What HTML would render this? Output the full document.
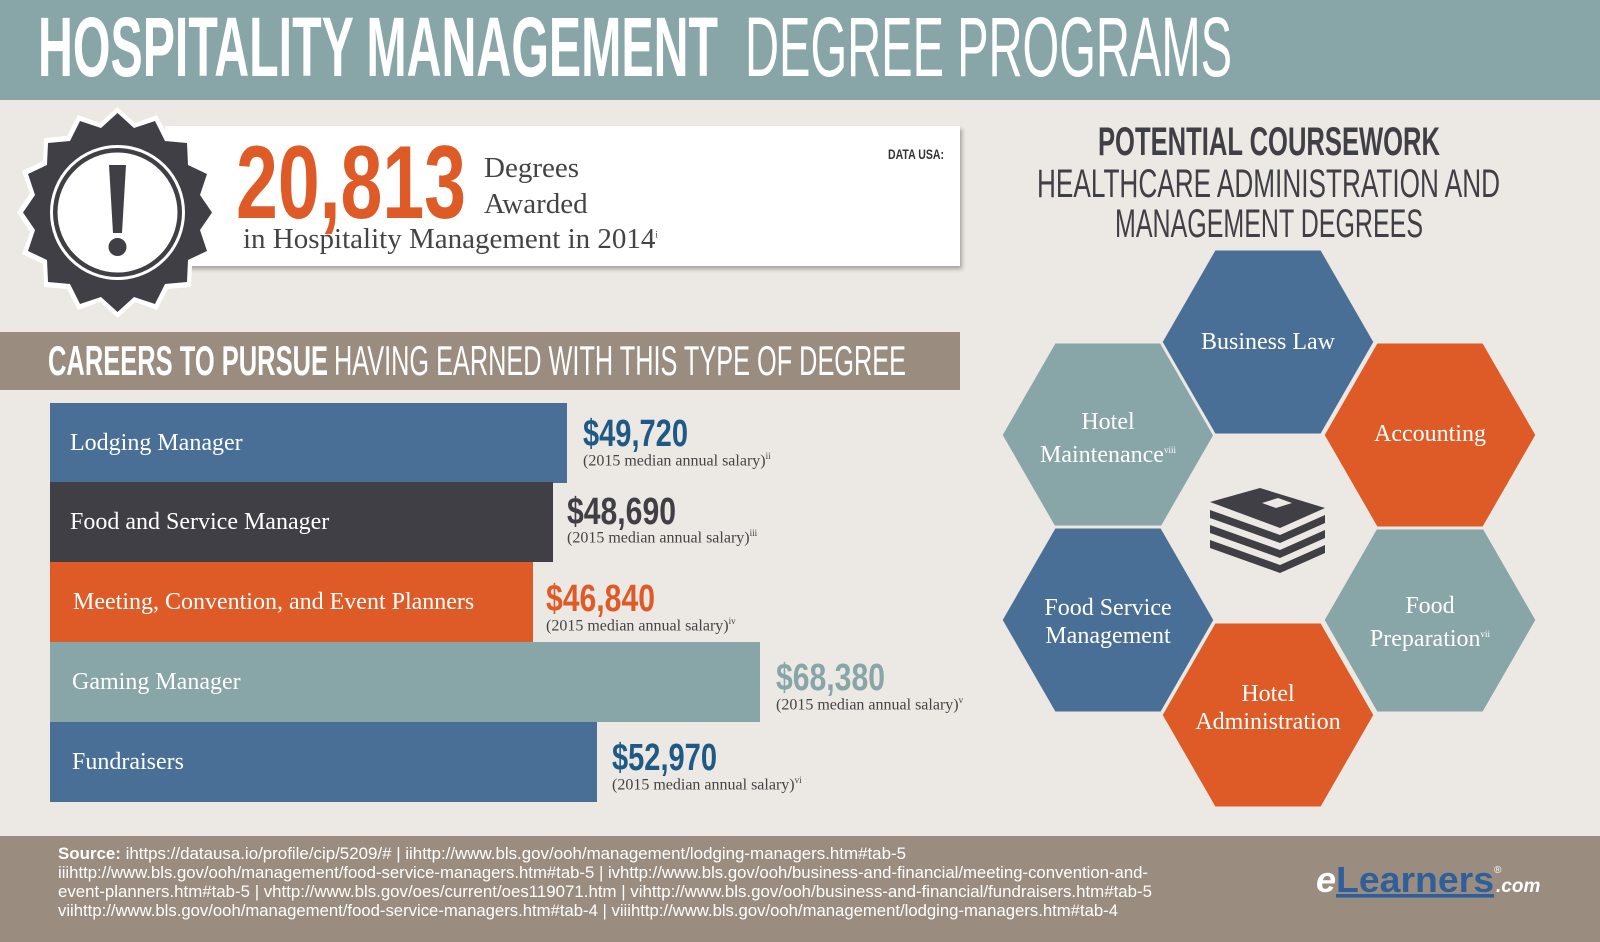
<!DOCTYPE html>
<html><head><meta charset="utf-8"><style>
*{margin:0;padding:0;box-sizing:border-box}
body{width:1600px;height:942px;background:#ece8e3;position:relative;overflow:hidden;font-family:"Liberation Serif",serif}
.abs{position:absolute}
.bar{position:absolute;left:50px;height:80px;color:#fff;font-size:24px;line-height:80px;padding-left:20px}
.sal{position:absolute;line-height:1}
.sal span{font-size:16px;color:#444;display:block;margin-top:34px}
sup{font-size:9px}
.hx{position:absolute;color:#fff;font-size:24px;text-align:center;line-height:28px}
svg text{font-family:"Liberation Sans",sans-serif}
</style></head><body>
<div class="abs" style="left:0;top:0;width:1600px;height:100px;background:#88a5a7"></div>
<div class="abs" style="left:165px;top:126px;width:795px;height:140px;background:#fff;box-shadow:2px 3px 4px rgba(0,0,0,.3)"></div>
<div class="abs" style="left:0;top:332px;width:960px;height:58px;background:#9a8d80"></div>

<div class="bar" style="top:403px;width:517px;background:#4a6f96">Lodging Manager</div>
<div class="bar" style="top:482px;width:503px;background:#3f3f45">Food and Service Manager</div>
<div class="bar" style="top:562px;width:483px;background:#de5b27;padding-left:23px">Meeting, Convention, and Event Planners</div>
<div class="bar" style="top:642px;width:710px;background:#88a5a7;padding-left:22px">Gaming Manager</div>
<div class="bar" style="top:722px;width:547px;background:#4a6f96;padding-left:22px">Fundraisers</div>

<div class="sal" style="left:583px;top:418px"><span>(2015 median annual salary)<sup>ii</sup></span></div>
<div class="sal" style="left:567px;top:495px"><span>(2015 median annual salary)<sup>iii</sup></span></div>
<div class="sal" style="left:546px;top:583px"><span>(2015 median annual salary)<sup>iv</sup></span></div>
<div class="sal" style="left:776px;top:662px"><span>(2015 median annual salary)<sup>v</sup></span></div>
<div class="sal" style="left:612px;top:742px"><span>(2015 median annual salary)<sup>vi</sup></span></div>

<div class="abs" style="left:484px;top:150px;font-size:29px;color:#444;line-height:36px">Degrees<br>Awarded</div>
<div class="abs" style="left:243px;top:223px;font-size:29px;color:#444">in Hospitality Management in 2014<sup>i</sup></div>

<svg class="abs" style="left:0;top:0" width="1600" height="942">
<text x="38" y="76" font-size="84" fill="#fff" font-weight="bold" textLength="680" lengthAdjust="spacingAndGlyphs">HOSPITALITY MANAGEMENT</text>
<text x="745" y="76" font-size="84" fill="#fff" textLength="487" lengthAdjust="spacingAndGlyphs">DEGREE PROGRAMS</text>
<text x="236" y="218" font-size="104" fill="#de5b27" font-weight="bold" textLength="230" lengthAdjust="spacingAndGlyphs">20,813</text>
<text x="888" y="159" font-size="14" fill="#333" font-weight="bold" textLength="56" lengthAdjust="spacingAndGlyphs">DATA USA:</text>
<text x="48" y="375" font-size="42" fill="#fff" font-weight="bold" textLength="280" lengthAdjust="spacingAndGlyphs">CAREERS TO PURSUE</text>
<text x="334" y="375" font-size="42" fill="#fff" textLength="572" lengthAdjust="spacingAndGlyphs">HAVING EARNED WITH THIS TYPE OF DEGREE</text>
<text x="1098" y="155" font-size="40" fill="#3f3f45" font-weight="bold" textLength="342" lengthAdjust="spacingAndGlyphs">POTENTIAL COURSEWORK</text>
<text x="1037" y="197" font-size="40" fill="#3f3f45" textLength="463" lengthAdjust="spacingAndGlyphs">HEALTHCARE ADMINISTRATION AND</text>
<text x="1115" y="237" font-size="40" fill="#3f3f45" textLength="308" lengthAdjust="spacingAndGlyphs">MANAGEMENT DEGREES</text>
<g font-size="38" font-weight="bold">
<text x="583" y="446" fill="#1f5a85" textLength="105" lengthAdjust="spacingAndGlyphs">$49,720</text>
<text x="567" y="524" fill="#3f3f45" textLength="109" lengthAdjust="spacingAndGlyphs">$48,690</text>
<text x="546" y="611" fill="#de5b27" textLength="109" lengthAdjust="spacingAndGlyphs">$46,840</text>
<text x="776" y="690" fill="#88a5a7" textLength="109" lengthAdjust="spacingAndGlyphs">$68,380</text>
<text x="612" y="770" fill="#1f5a85" textLength="105" lengthAdjust="spacingAndGlyphs">$52,970</text>
</g>
<g stroke="#ece8e3" stroke-width="3">
<polygon fill="#88a5a7" points="1001,435 1054.5,342 1161.5,342 1215,435 1161.5,528 1054.5,528"/>
<polygon fill="#4a6f96" points="1001,620 1054.5,527 1161.5,527 1215,620 1161.5,713 1054.5,713"/>
<polygon fill="#88a5a7" points="1323,620 1376.5,527 1483.5,527 1537,620 1483.5,713 1376.5,713"/>
<polygon fill="#de5b27" points="1323,435 1376.5,342 1483.5,342 1537,435 1483.5,528 1376.5,528"/>
<polygon fill="#4a6f96" points="1161,342 1214.5,249 1321.5,249 1375,342 1321.5,435 1214.5,435"/>
<polygon fill="#de5b27" points="1161,715 1214.5,622 1321.5,622 1375,715 1321.5,808 1214.5,808"/>
</g>
<g fill="#3f3f45">
<polygon points="1210,540 1280,565 1325,545 1325,553 1280,573 1210,548"/>
<polygon points="1210,525 1280,550 1325,530 1325,538 1280,558 1210,533"/>
<polygon points="1210,510 1280,535 1325,515 1325,523 1280,543 1210,518"/>
<polygon points="1210,502 1260,488 1325,508 1280,528"/>
<polygon fill="#ece8e3" points="1262,503 1278,498 1292,503 1276,508"/>
</g>
<rect x="0" y="836" width="1600" height="106" fill="#9a8d80"/>
<g font-size="17" fill="#fff">
<text x="58" y="859" textLength="848" lengthAdjust="spacingAndGlyphs"><tspan font-weight="bold">Source:</tspan> ihttps://datausa.io/profile/cip/5209/# | iihttp://www.bls.gov/ooh/management/lodging-managers.htm#tab-5</text>
<text x="58" y="878" textLength="1090" lengthAdjust="spacingAndGlyphs">iiihttp://www.bls.gov/ooh/management/food-service-managers.htm#tab-5 | ivhttp://www.bls.gov/ooh/business-and-financial/meeting-convention-and-</text>
<text x="58" y="897" textLength="1094" lengthAdjust="spacingAndGlyphs">event-planners.htm#tab-5 | vhttp://www.bls.gov/oes/current/oes119071.htm | vihttp://www.bls.gov/ooh/business-and-financial/fundraisers.htm#tab-5</text>
<text x="58" y="916" textLength="1060" lengthAdjust="spacingAndGlyphs">viihttp://www.bls.gov/ooh/management/food-service-managers.htm#tab-4 | viiihttp://www.bls.gov/ooh/management/lodging-managers.htm#tab-4</text>
</g>
<text x="1316" y="892" font-size="36" font-weight="bold" font-style="italic" fill="#fff">e</text>
<text x="1336" y="892" font-size="36" font-weight="bold" fill="#2f5f9a" text-decoration="underline" textLength="158" lengthAdjust="spacingAndGlyphs">Learners</text>
<text x="1496" y="892" font-size="19" font-weight="bold" font-style="italic" fill="#fff">.com</text>
<text x="1494" y="873" font-size="10" fill="#fff">®</text>
</svg>
<svg class="abs" style="left:10px;top:105px" width="215" height="215" viewBox="0 0 215 215">
<polygon fill="#fff" points="107.5,2 125,18 147,10 158,31 181,33 182,56 203,66 195,88 208,107.5 195,127 203,149 182,159 181,182 158,184 147,205 125,197 107.5,213 90,197 68,205 57,184 34,182 33,159 12,149 20,127 7,107.5 20,88 12,66 33,56 34,33 57,31 68,10 90,18"/>
<polygon fill="#3f3f45" points="107.5,8 124,23 145,16 155,36 177,38 178,60 197,69 190,90 202,107.5 190,125 197,146 178,155 177,177 155,179 145,199 124,192 107.5,207 91,192 70,199 60,179 38,177 37,155 18,146 25,125 13,107.5 25,90 18,69 37,60 38,38 60,36 70,16 91,23"/>
<circle cx="107.5" cy="107.5" r="66" fill="none" stroke="#fff" stroke-width="3"/>
<circle cx="107.5" cy="107.5" r="60" fill="#fff"/>
<path d="M99,60 L116,60 L112,128 L103,128Z" fill="#3f3f45"/>
<circle cx="107.5" cy="142" r="9" fill="#3f3f45"/>
</svg>
<div class="hx" style="left:1168px;top:328px;width:200px">Business Law</div>
<div class="hx" style="left:1330px;top:420px;width:200px">Accounting</div>
<div class="hx" style="left:1008px;top:408px;width:200px">Hotel<br>Maintenance<sup>viii</sup></div>
<div class="hx" style="left:1008px;top:594px;width:200px">Food Service<br>Management</div>
<div class="hx" style="left:1330px;top:592px;width:200px">Food<br>Preparation<sup>vii</sup></div>
<div class="hx" style="left:1168px;top:680px;width:200px">Hotel<br>Administration</div>
</body></html>
